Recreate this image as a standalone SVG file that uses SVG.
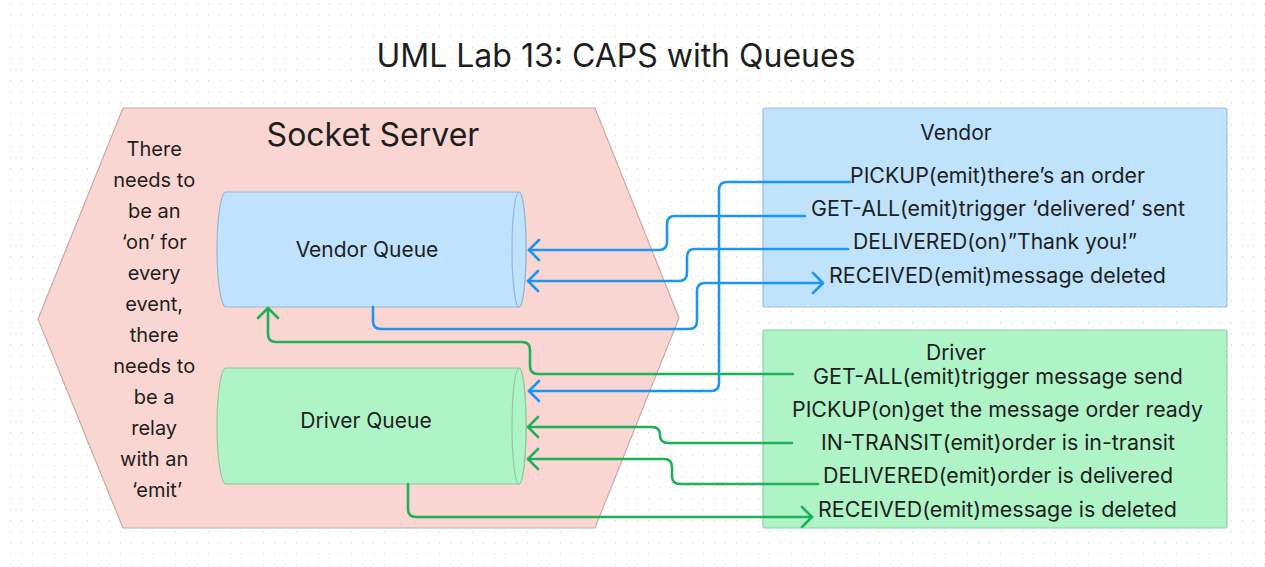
<svg xmlns="http://www.w3.org/2000/svg" width="1265" height="567" viewBox="0 0 1265 567">
<defs>
<pattern id="dots" x="0" y="0" width="11" height="11" patternUnits="userSpaceOnUse">
<rect x="10" y="3" width="1.4" height="1.4" fill="#d4d4d4"/>
</pattern>
<marker id="ab" viewBox="-12 -12 14 24" markerWidth="14" markerHeight="24" refX="0" refY="0" orient="auto" markerUnits="userSpaceOnUse">
<path d="M-10,-10 L0,0 L-10,10" fill="none" stroke="#1b96f2" stroke-width="2.6" stroke-linecap="round" stroke-linejoin="round"/>
</marker>
<marker id="ag" viewBox="-12 -12 14 24" markerWidth="14" markerHeight="24" refX="0" refY="0" orient="auto" markerUnits="userSpaceOnUse">
<path d="M-10,-10 L0,0 L-10,10" fill="none" stroke="#1fb05a" stroke-width="2.6" stroke-linecap="round" stroke-linejoin="round"/>
</marker>
</defs>
<style>
text{font-family:Inter,"Noto Sans","Liberation Sans",sans-serif;fill:#1e1e1e;text-anchor:middle}
.t{font-size:20px}
.h{font-size:21px}
.e{font-size:21px}
.q{font-size:21px}
.cb{fill:none;stroke:#1b96f2;stroke-width:2.6;stroke-linecap:round;stroke-linejoin:round}
.cg{fill:none;stroke:#1fb05a;stroke-width:2.6;stroke-linecap:round;stroke-linejoin:round}
</style>
<rect width="1265" height="567" fill="#ffffff"/>
<rect width="1265" height="567" fill="url(#dots)"/>
<text x="616" y="67" style="font-size:32px">UML Lab 13: CAPS with Queues</text>
<g id="socket-server">
<polygon points="123,108 595,108 679,318 595,528 123,528 38,319" fill="#fad6d2" stroke="#c8a9a5" stroke-width="1.2"/>
<text x="373" y="146" style="font-size:32px">Socket Server</text>
<text class="t" x="157">
<tspan x="157" y="156">There</tspan>
<tspan x="157" y="187">needs to</tspan>
<tspan x="157" y="218">be an</tspan>
<tspan x="157" y="249">‘on’ for</tspan>
<tspan x="157" y="280">every</tspan>
<tspan x="157" y="311">event,</tspan>
<tspan x="157" y="342">there</tspan>
<tspan x="157" y="373">needs to</tspan>
<tspan x="157" y="404">be a</tspan>
<tspan x="157" y="435">relay</tspan>
<tspan x="157" y="466">with an</tspan>
<tspan x="157" y="497">‘emit’</tspan>
</text>
</g>
<g id="vendor-queue">
<path d="M226,192 H519 A7,57.5 0 0 1 519,307 H226 A9,57.5 0 0 1 226,192 Z" fill="#bfe3fc" stroke="#94b8d0" stroke-width="1.2"/>
<ellipse cx="519" cy="249.5" rx="7" ry="57.5" fill="#bfe3fc" stroke="#94b8d0" stroke-width="1.2"/>
<text class="q" x="367" y="257">Vendor Queue</text>
</g>
<g id="driver-queue">
<path d="M226,368 H519 A7,58 0 0 1 519,484 H226 A9,58 0 0 1 226,368 Z" fill="#aff4c6" stroke="#8fc8a2" stroke-width="1.2"/>
<ellipse cx="519" cy="426" rx="7" ry="58" fill="#aff4c6" stroke="#8fc8a2" stroke-width="1.2"/>
<text class="q" x="366" y="428">Driver Queue</text>
</g>
<g id="vendor">
<rect x="763" y="108" width="464" height="199" rx="2" fill="#bee3fb" stroke="#9cc0d8" stroke-width="1.2"/>
<text class="h" x="956" y="140">Vendor</text>
<text class="e" x="997.5" y="183" textLength="295" lengthAdjust="spacingAndGlyphs">PICKUP(emit)there’s an order</text>
<text class="e" x="998" y="216" textLength="374" lengthAdjust="spacingAndGlyphs">GET-ALL(emit)trigger ‘delivered’ sent</text>
<text class="e" x="995" y="249" textLength="284" lengthAdjust="spacingAndGlyphs">DELIVERED(on)”Thank you!”</text>
<text class="e" x="997.5" y="283" textLength="337" lengthAdjust="spacingAndGlyphs">RECEIVED(emit)message deleted</text>
</g>
<g id="driver">
<rect x="763" y="330" width="464" height="198" rx="2" fill="#aff4c6" stroke="#8fd0a6" stroke-width="1.2"/>
<text class="h" x="956" y="360">Driver</text>
<text class="e" x="998" y="384" textLength="370" lengthAdjust="spacingAndGlyphs">GET-ALL(emit)trigger message send</text>
<text class="e" x="997.5" y="417" textLength="411" lengthAdjust="spacingAndGlyphs">PICKUP(on)get the message order ready</text>
<text class="e" x="998" y="450" textLength="354" lengthAdjust="spacingAndGlyphs">IN-TRANSIT(emit)order is in-transit</text>
<text class="e" x="998" y="483" textLength="350" lengthAdjust="spacingAndGlyphs">DELIVERED(emit)order is delivered</text>
<text class="e" x="997.5" y="517" textLength="359" lengthAdjust="spacingAndGlyphs">RECEIVED(emit)message is deleted</text>
</g>
<g id="connectors">
<path class="cb" marker-end="url(#ab)" d="M850,182 H727 Q719,182 719,190 V383 Q719,391 711,391 H529"/>
<path class="cb" marker-end="url(#ab)" d="M805,216 H675 Q667,216 667,224 V242 Q667,250 659,250 H529"/>
<path class="cb" marker-end="url(#ab)" d="M848,249 H695 Q687,249 687,257 V273 Q687,281 679,281 H528"/>
<path class="cb" marker-end="url(#ab)" d="M373,307 V321 Q373,329 381,329 H689 Q697,329 697,321 V291 Q697,283 705,283 H823"/>
<path class="cg" marker-end="url(#ag)" d="M793,374 H538 Q530,374 530,366 V350 Q530,342 522,342 H276 Q268,342 268,334 V308"/>
<path class="cg" marker-end="url(#ag)" d="M792,443 H668 Q660,443 660,435 Q660,427 652,427 H528"/>
<path class="cg" marker-end="url(#ag)" d="M818,484 H680 Q672,484 672,476 V467 Q672,459 664,459 H528"/>
<path class="cg" marker-end="url(#ag)" d="M408,484 V509 Q408,517 416,517 H812"/>
</g>
</svg>
